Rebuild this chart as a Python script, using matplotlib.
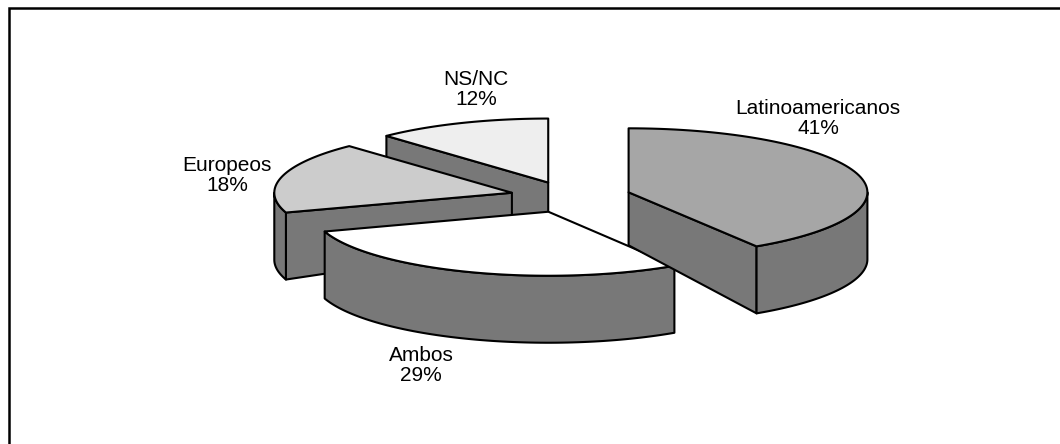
import numpy as np
import matplotlib
matplotlib.use('Agg')
from matplotlib import pyplot as plt
from matplotlib.patches import Polygon

categories = ['Latinoamericanos', 'Ambos', 'Europeos', 'NS/NC']
values = [41, 29, 18, 12]
tops = ['#a6a6a6', '#ffffff', '#cccccc', '#eeeeee']
side = '#787878'

plt.rcParams['font.family'] = ['Liberation Sans', 'DejaVu Sans']

fig = plt.figure(figsize=(10.6, 4.44), dpi=100)
ax = fig.add_axes([0, 0, 1, 1])
ax.set_xlim(0, 1060)
ax.set_ylim(444, 0)
ax.axis('off')

# pie geometry in pixels, the ellipse is a tilted circle
cx, cy = 570.5, 196.5
a, b = 240, 64
ex, ey = 60.5, 15
rim_depth, apex_depth = 67, 53
# fake perspective, each slice a bit narrower
scale = [0.995, 0.98, 0.99, 0.985]
explode = [1, 1.08, 1, 1]

ends = np.cumsum(values) / np.sum(values) * 360
starts = ends - np.array(values) / np.sum(values) * 360


def arc(x0, y0, r, a1, a2):
    t = np.radians(np.linspace(a1, a2, 80))
    return np.column_stack([x0 + r * np.sin(t), y0 - b * np.cos(t)])


def draw_face(xy, color, z):
    ax.add_patch(Polygon(xy, closed=True, fc=color, ec='black', lw=1.5, joinstyle='round', zorder=z))


# back to front
for i, z in [(3, 1), (2, 2), (1, 3), (0, 4)]:
    s, e = starts[i], ends[i]
    r = a * scale[i]
    mid = np.radians((s + e) / 2)
    x0 = cx + explode[i] * ex * np.sin(mid)
    y0 = cy - explode[i] * ey * np.cos(mid)

    # cut faces, only those turned to the viewer
    for ang, normal in ((s, s - 90), (e, e + 90)):
        if np.cos(np.radians(normal)) < -0.01:
            px, py = arc(x0, y0, r, ang, ang)[0]
            draw_face([(x0, y0), (px, py), (px, py + rim_depth), (x0, y0 + apex_depth)], side, z)

    # outer wall, only the part facing the viewer
    lo, hi = max(s, 90), min(e, 270)
    if hi > lo:
        upper = arc(x0, y0, r, lo, hi)
        lower = upper[::-1] + [0, rim_depth]
        draw_face(np.vstack([upper, lower]), side, z)

    # top face
    draw_face(np.vstack([[(x0, y0)], arc(x0, y0, r, s, e)]), tops[i], z + 0.5)

# labels
label_xy = [(818, 118.5), (421, 365.5), (227, 175.5), (476, 89.5)]
for name, v, (lx, ly) in zip(categories, values, label_xy):
    ax.text(lx, ly, f'{name}\n{v}%', ha='center', va='center', fontsize=15, linespacing=1.07, color='black', zorder=10)

# frame is only top and left, the rest got cropped
ax.plot([1060, 9, 9], [7.8, 7.8, 444], color='black', lw=1.8, solid_joinstyle='miter', zorder=11)

fig.savefig('out.png', dpi=100)
